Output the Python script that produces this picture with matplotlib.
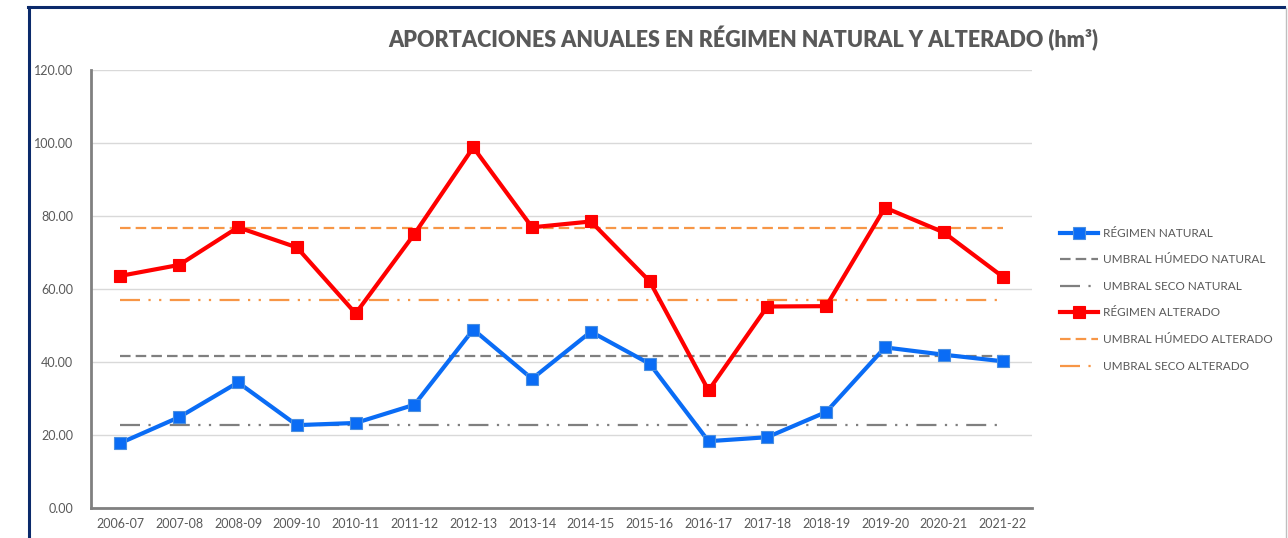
import matplotlib
matplotlib.use('Agg')
import matplotlib.pyplot as plt
from matplotlib.lines import Line2D

plt.rcParams['font.family'] = ['Lato', 'DejaVu Sans']

# datos
years = ['2006-07', '2007-08', '2008-09', '2009-10', '2010-11', '2011-12', '2012-13', '2013-14',
         '2014-15', '2015-16', '2016-17', '2017-18', '2018-19', '2019-20', '2020-21', '2021-22']
natural = [17.8, 24.9, 34.4, 22.7, 23.3, 28.3, 48.9, 35.4, 48.3, 39.5, 18.3, 19.4, 26.3, 44.0, 42.0, 40.2]
alterado = [63.6, 66.6, 76.9, 71.4, 53.3, 75.1, 98.8, 76.9, 78.5, 62.1, 32.2, 55.2, 55.3, 82.3, 75.5, 63.4]
umbral_humedo_nat = 41.6
umbral_seco_nat = 22.8
umbral_humedo_alt = 76.8
umbral_seco_alt = 57.0

blue = '#0A6CF5'
red = '#FF0000'
gray = '#7F7F7F'
orange = '#F79646'
txt = '#595959'

fig = plt.figure(figsize=(12.88, 5.38), dpi=100)
ax = fig.add_axes([91/1288, 30/538, (1032-91)/1288, (508-70)/538])

x = list(range(len(years)))
dashdotdot = (0, (9, 3.8, 1, 3.8, 1, 3.8))
dashed = (0, (4.75, 2.3))

ax.plot(x, natural, color=blue, lw=3, marker='s', ms=9, mec='#4A8FE0', mew=0.8,
        label='RÉGIMEN NATURAL', zorder=5)
ax.plot(x, [umbral_humedo_nat]*len(x), color=gray, lw=1.6, ls=dashed, label='UMBRAL HÚMEDO NATURAL', zorder=3)
ax.plot(x, [umbral_seco_nat]*len(x), color=gray, lw=1.6, ls=dashdotdot, label='UMBRAL SECO NATURAL', zorder=3)
ax.plot(x, alterado, color=red, lw=3, marker='s', ms=9, mec=red, mew=0.8,
        label='RÉGIMEN ALTERADO', zorder=5)
ax.plot(x, [umbral_humedo_alt]*len(x), color=orange, lw=1.6, ls=dashed, label='UMBRAL HÚMEDO ALTERADO', zorder=3)
ax.plot(x, [umbral_seco_alt]*len(x), color=orange, lw=1.6, ls=dashdotdot, label='UMBRAL SECO ALTERADO', zorder=3)

ax.set_xlim(-0.5, len(years) - 0.5)
ax.set_ylim(0, 120)
ax.set_yticks([0, 20, 40, 60, 80, 100, 120])
ax.set_yticklabels(['%.2f' % v for v in [0, 20, 40, 60, 80, 100, 120]])
ax.set_xticks(x)
ax.set_xticklabels(years)
ax.tick_params(axis='both', length=0, labelsize=9, colors=txt, pad=7)
ax.tick_params(axis='y', pad=13)
ax.grid(axis='y', color='#D9D9D9', lw=1)
ax.set_axisbelow(True)
for s in ['top', 'right']:
    ax.spines[s].set_visible(False)
for s in ['left', 'bottom']:
    ax.spines[s].set_color('#808080')
    ax.spines[s].set_linewidth(2)

fig.text(0.577, 0.929, 'APORTACIONES ANUALES EN RÉGIMEN NATURAL Y ALTERADO (hm\u00b3)',
         ha='center', va='center', fontsize=15.5, fontweight='heavy', color=txt)

leg = fig.legend(loc='upper left', bbox_to_anchor=(1055/1288, 1 - 223/538), frameon=False,
                 fontsize=8.5, labelcolor=txt, handlelength=3.2, handletextpad=0.5,
                 labelspacing=1.32, borderaxespad=0)

# marco del grafico
fig.add_artist(Line2D([29/1288, 29/1288], [0, 1 - 7/538], color='#0B2A6B', lw=2.2))
fig.add_artist(Line2D([28/1288, 1284/1288], [1 - 7/538, 1 - 7/538], color='#0B2A6B', lw=2.2))
fig.add_artist(Line2D([1286/1288, 1286/1288], [0, 1 - 8/538], color='#BFBFBF', lw=1))

fig.savefig('out.png', dpi=100, facecolor='white')
